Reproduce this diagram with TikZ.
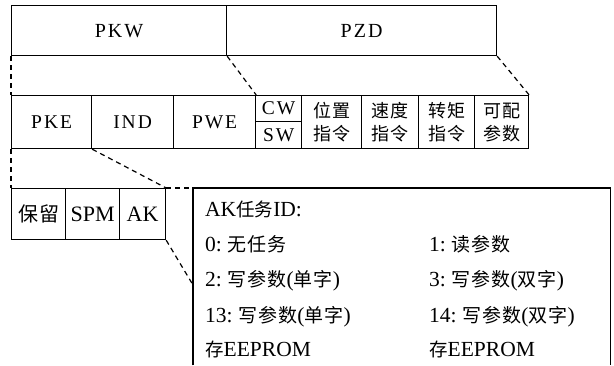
\documentclass[tikz,border=0pt]{standalone}
\usepackage{fontspec}
\setmainfont{Liberation Serif}
\newfontfamily\cjk[LetterSpace=6]{Noto Sans CJK SC}
\newfontfamily\cjktight{Noto Sans CJK SC}
\newfontfamily\lspfont[LetterSpace=10]{Liberation Serif}
\newcommand{\zh}[1]{{\fontsize{19}{23}\cjk #1}}
\newcommand{\zht}[1]{{\fontsize{18.5}{23}\cjktight #1}}
\begin{document}
\begin{tikzpicture}[x=1pt,y=-1pt,
  cell/.style={draw, line width=1.2pt, inner sep=0pt, anchor=north west},
  rowa/.style={font=\fontsize{20}{24}\lspfont},
  rowb/.style={font=\fontsize{19.5}{23}\lspfont},
  rowbzh/.style={align=center, font=\fontsize{18}{23}\cjk},
  rowc/.style={font=\fontsize{22}{26}\selectfont},
  rowczh/.style={font=\fontsize{20}{24}\cjk},
  dline/.style={line width=1.2pt, dash pattern=on 5pt off 4pt},
  txt/.style={anchor=base west, inner sep=0pt, font=\fontsize{21.5}{25}\selectfont}]
\useasboundingbox (0,0) rectangle (614,365);
% row 1
\node[cell, rowa, minimum width=215pt, minimum height=50pt] (pkw) at (11,5) {PKW};
\node[cell, rowa, minimum width=270pt, minimum height=50pt] (pzd) at (226,5) {PZD};
% row 2
\node[cell, rowb, minimum width=80pt, minimum height=53pt] (pke) at (11,95) {PKE};
\node[cell, rowb, minimum width=82pt, minimum height=53pt] (ind) at (91,95) {IND};
\node[cell, rowb, minimum width=82pt, minimum height=53pt] (pwe) at (173,95) {PWE};
\node[cell, rowb, minimum width=46pt, minimum height=26pt] (cw) at (255,95) {CW};
\node[cell, rowb, minimum width=46pt, minimum height=27pt] (sw) at (255,121) {SW};
\node[cell, rowbzh, minimum width=60pt, minimum height=53pt] (pos) at (301,95) {位置\\指令};
\node[cell, rowbzh, minimum width=57pt, minimum height=53pt] (spd) at (361,95) {速度\\指令};
\node[cell, rowbzh, minimum width=56pt, minimum height=53pt] (trq) at (418,95) {转矩\\指令};
\node[cell, rowbzh, minimum width=54pt, minimum height=53pt] (cfg) at (474,95) {可配\\参数};
% row 3
\node[cell, rowczh, minimum width=54pt, minimum height=51pt] (bl) at (11,188) {保留};
\node[cell, rowc, minimum width=54pt, minimum height=51pt] (spm) at (65,188) {SPM};
\node[cell, rowc, minimum width=46pt, minimum height=51pt] (ak) at (119,188) {AK};
% AK box (open at the bottom)
\node[anchor=north west, inner sep=0pt, minimum width=417pt, minimum height=177pt] (akbox) at (193,188) {};
\draw[line width=1.2pt] (akbox.south west) -- (akbox.north west) -- (akbox.north east) -- (akbox.south east);
% texts in AK box
\node[txt] (t0) at (205,216) {AK\zht{任务}ID:};
\node[txt] (t1) at (205,251) {0:\ \zh{无任务}};
\node[txt] (t2) at (429,251) {1:\ \zh{读参数}};
\node[txt] (t3) at (205,286) {2:\ \zh{写参数}(\zh{单字})};
\node[txt] (t4) at (429,286) {3:\ \zh{写参数}(\zh{双字})};
\node[txt] (t5) at (205,322) {13:\ \zh{写参数}(\zh{单字})};
\node[txt] (t6) at (429,322) {14:\ \zh{写参数}(\zh{双字})};
\node[txt] (t7) at (205,356) {\zht{存}EEPROM};
\node[txt] (t8) at (429,356) {\zht{存}EEPROM};
% dashed connectors
\coordinate (akhit) at (193,285);
\draw[dline] (pkw.south west) -- (pke.north west);
\draw[dline] (pkw.south east) -- (pwe.north east);
\draw[dline] (pzd.south east) -- (cfg.north east);
\draw[dline] (pke.south west) -- (bl.north west);
\draw[dline] (pke.south east) -- (ak.north east);
\draw[dline] (ak.north east) -- (akbox.north west);
\draw[dline] (ak.south east) -- (akhit);
\end{tikzpicture}
\end{document}
